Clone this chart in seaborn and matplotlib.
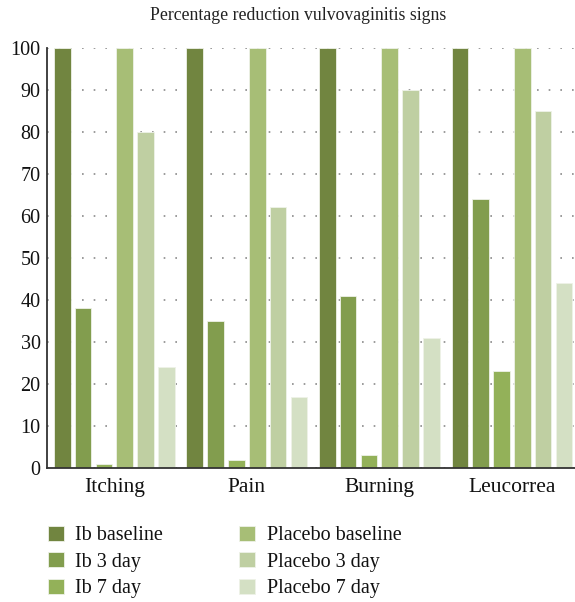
import pandas as pd
import matplotlib.pyplot as plt
import seaborn as sns

# Chart data
signs = ['Itching', 'Pain', 'Burning', 'Leucorrea']
groups = ['Ib baseline', 'Ib 3 day', 'Ib 7 day',
          'Placebo baseline', 'Placebo 3 day', 'Placebo 7 day']
ib_baseline = [100, 100, 100, 100]
ib_3day = [38, 35, 41, 64]
ib_7day = [1, 2, 3, 23]
placebo_baseline = [100, 100, 100, 100]
placebo_3day = [80, 62, 90, 85]
placebo_7day = [24, 17, 31, 44]
yticks = [0, 10, 20, 30, 40, 50, 60, 70, 80, 90, 100]

colors = ['#718540', '#829d4e', '#93b159', '#a7be76', '#bfcfa2', '#d4e0c4']

series = [ib_baseline, ib_3day, ib_7day, placebo_baseline, placebo_3day, placebo_7day]
rows = []
for g, vals in zip(groups, series):
    for s, v in zip(signs, vals):
        rows.append({'Sign': s, 'Group': g, 'Value': v})
df = pd.DataFrame(rows)

sns.set_style("white")
plt.rcParams['font.family'] = ['Liberation Serif', 'DejaVu Serif']

fig = plt.figure(figsize=(5.75, 6.02), dpi=100)
ax = fig.add_axes([0.0826, 0.2226, 0.9174, 0.6982])

sns.barplot(data=df, x='Sign', y='Value', hue='Group', order=signs,
            hue_order=groups, palette=dict(zip(groups, colors)),
            width=0.943, gap=0.2, errorbar=None, saturation=1,
            edgecolor='#eef2e8', linewidth=0.6, ax=ax)

handles, labels = ax.get_legend_handles_labels()
ax.get_legend().remove()

ax.set_ylim(0, 100)
ax.set_xlim(-0.504, 3.476)
ax.set_yticks(yticks)
ax.set_yticklabels([str(t) for t in yticks], fontsize=14.5, color='#111111')
ax.tick_params(axis='x', labelsize=15.5, labelcolor='#111111', length=0, pad=7)
ax.tick_params(axis='y', length=0, pad=5)
ax.set_xlabel('')
ax.set_ylabel('')

ax.set_axisbelow(True)
ax.yaxis.grid(True, color='#8a8a8a', linestyle=(0, (1, 6)), linewidth=1.2)
ax.xaxis.grid(False)
for side in ['top', 'right']:
    ax.spines[side].set_visible(False)
for side in ['left', 'bottom']:
    ax.spines[side].set_color('#333333')
    ax.spines[side].set_linewidth(1.3)

fig.text(0.518, 0.975, 'Percentage reduction vulvovaginitis signs',
         ha='center', va='center', fontsize=12.8, color='#222222')

fig.legend(handles, labels, loc='upper left', ncol=2,
           bbox_to_anchor=(0.083, 0.1263), frameon=False,
           prop={'size': 14.5}, labelcolor='#111111',
           handlelength=0.8, handleheight=0.75, handletextpad=0.55,
           columnspacing=3.8, labelspacing=0.35, borderpad=0, borderaxespad=0)

plt.savefig('out.png', dpi=100)
